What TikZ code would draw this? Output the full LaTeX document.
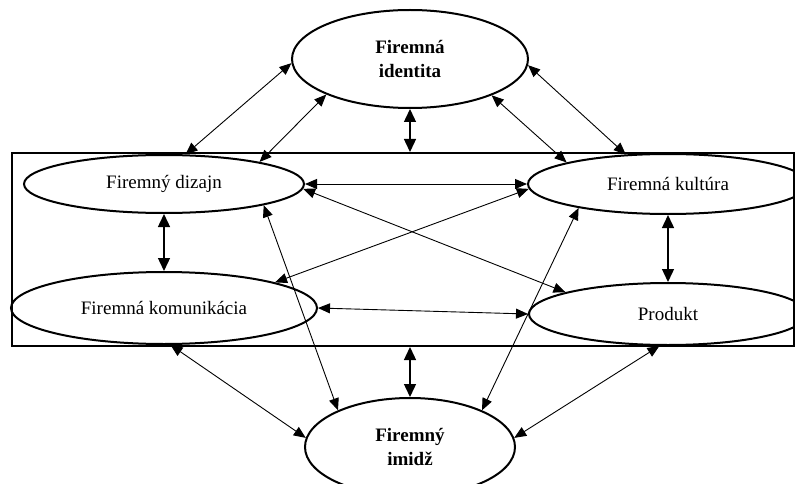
\documentclass[tikz,border=0pt]{standalone}
\usepackage{fontspec}
\setmainfont{Liberation Serif}
\usetikzlibrary{shapes.geometric,arrows.meta}
\begin{document}
\begin{tikzpicture}[x=1pt,y=-1pt,
  ell/.style={draw, ellipse, line width=2pt, inner sep=0pt, align=center, font=\fontsize{19}{24}\selectfont},
  link/.style={line width=0.9pt, {Triangle[length=12pt,width=10pt]}-{Triangle[length=12pt,width=10pt]}},
  vlink/.style={line width=1.4pt, {Triangle[length=13pt,width=12pt]}-{Triangle[length=13pt,width=12pt]}}]
\clip (0,0) rectangle (795,484);
\node[draw, line width=2pt, minimum width=782pt, minimum height=193pt, inner sep=0pt] (box) at (403,249.5) {};
\node[ell, minimum width=236pt, minimum height=98pt] (id) at (410,59) {\textbf{Firemná}\\\textbf{identita}};
\node[ell, minimum width=280pt, minimum height=58pt] (diz) at (164,184) {Firemný dizajn};
\node[ell, minimum width=306pt, minimum height=72pt] (kom) at (164,308) {Firemná komunikácia};
\node[ell, minimum width=280pt, minimum height=60pt] (kul) at (668,184) {Firemná kultúra};
\node[ell, minimum width=278pt, minimum height=62pt] (prod) at (668,314) {Produkt};
\node[ell, minimum width=210pt, minimum height=98pt] (im) at (410,447) {\textbf{Firemný}\\\textbf{imidž}};
\draw[link] (id.182) -- (diz.54);
\draw[link] (id.203) -- (diz.13);
\draw[vlink] (id.south) -- (id.south |- box.north);
\draw[link] (id.336) -- (kul.168);
\draw[link] (id.357) -- (kul.145);
\draw[link] (diz.east) -- (kul.west);
\draw[link] (diz.358) -- (prod.168);
\draw[link] (kul.182) -- (kom.13);
\draw[link] (diz.348) -- (im.153);
\draw[link] (kom.east) -- (prod.west);
\draw[link] (kul.195) -- (im.27);
\draw[link] (kom.280) -- (im.175);
\draw[link] (prod.255) -- (im.5);
\draw[vlink] (im.north) -- (im.north |- box.south);
\draw[vlink] (diz.south) -- (kom.north);
\draw[vlink] (kul.south) -- (prod.north);
\end{tikzpicture}
\end{document}
